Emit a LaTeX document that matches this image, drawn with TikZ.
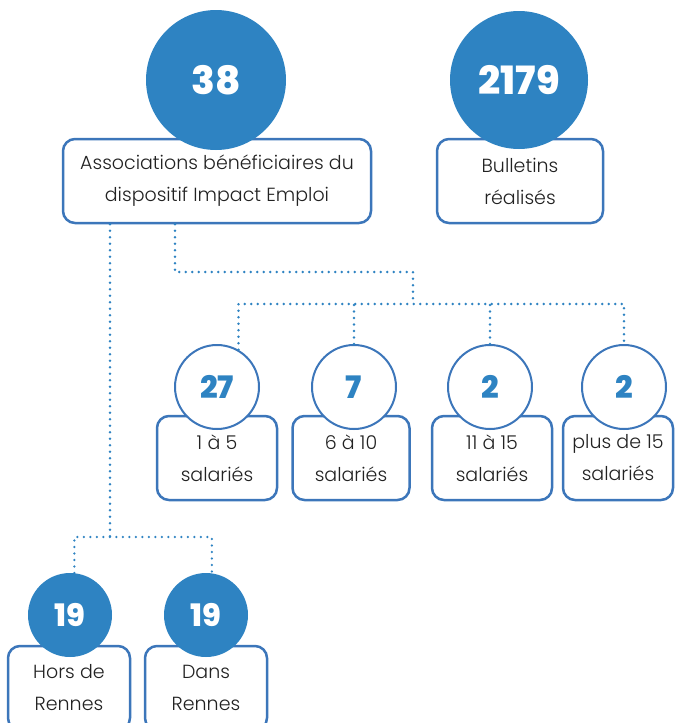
\documentclass[tikz,border=0pt]{standalone}
\usepackage{fontspec}
\setmainfont{Poppins}
\newfontfamily\leger{Poppins Light}
\newfontfamily\gras{Poppins ExtraBold}
\definecolor{bleu}{RGB}{46,131,194}
\definecolor{trait}{RGB}{60,118,186}
\definecolor{texte}{RGB}{34,34,34}
\tikzset{
  rond/.style={circle,fill=bleu,text=white,inner sep=0pt,font=\fontsize{39}{39}\gras},
  petitrond/.style={circle,draw=trait,line width=2pt,fill=white,text=bleu,inner sep=0pt,minimum size=84pt,font=\fontsize{31}{31}\gras},
  boite/.style={draw=trait,line width=2.5pt,rounded corners=12pt,fill=white,text=texte,align=center,inner sep=0pt,minimum height=84pt,font=\fontsize{19}{32}\leger},
  pointille/.style={draw=bleu,line width=2.6pt,dash pattern=on 0pt off 6.5pt,line cap=round}
}
\begin{document}
\begin{tikzpicture}[x=1pt,y=-1pt]
  \useasboundingbox (0,0) rectangle (675,723);
  % boites du haut
  \node[boite,minimum width=308pt] (assoc) at (217,181) {Associations bénéficiaires du\\dispositif Impact Emploi};
  \node[boite,minimum width=166pt] (bull) at (520,181) {Bulletins\\réalisés};
  \node[rond,minimum size=140pt] (n38) at (216,80) {38};
  \node[rond,minimum size=138pt] (n2179) at (519,80) {2179};
  % taille des associations
  \node[boite,minimum width=120pt] (b1) at (217,458) {1 à 5\\salariés};
  \node[boite,minimum width=117pt] (b2) at (351,458) {6 à 10\\salariés};
  \node[boite,minimum width=120pt] (b3) at (492,458) {11 à 15\\salariés};
  \node[boite,minimum width=110pt] (b4) at (618,458) {plus de 15\\salariés};
  \node[petitrond] (c27) at (217,387) {27};
  \node[petitrond] (c7) at (354,387) {7};
  \node[petitrond] (c2a) at (490,387) {2};
  \node[petitrond] (c2b) at (624,387) {2};
  % localisation
  \node[boite,minimum width=122pt] (hors) at (69,688) {Hors de\\Rennes};
  \node[boite,minimum width=122pt] (dans) at (206,688) {Dans\\Rennes};
  \node[rond,minimum size=84pt,font=\fontsize{31}{31}\gras] (h19) at (70,615) {19};
  \node[rond,minimum size=84pt,font=\fontsize{31}{31}\gras] (d19) at (206,615) {19};
  % liaisons
  \coordinate (pA) at (175,272);
  \coordinate (pB) at (413,272);
  \coordinate (pC) at (413,304);
  \coordinate (pD) at (110,537);
  \draw[pointille] (assoc.south -| pA) -- (pA) -- (pB) -- (pC);
  \draw[pointille] (c27.60) |- (pC) -| (c2b.north);
  \draw[pointille] (c7.north) -- (c7.north |- pC);
  \draw[pointille] (c2a.north) -- (c2a.north |- pC);
  \draw[pointille] (assoc.south -| pD) -- (pD);
  \draw[pointille] (h19.84) |- (pD) -| (d19.82);
\end{tikzpicture}
\end{document}
